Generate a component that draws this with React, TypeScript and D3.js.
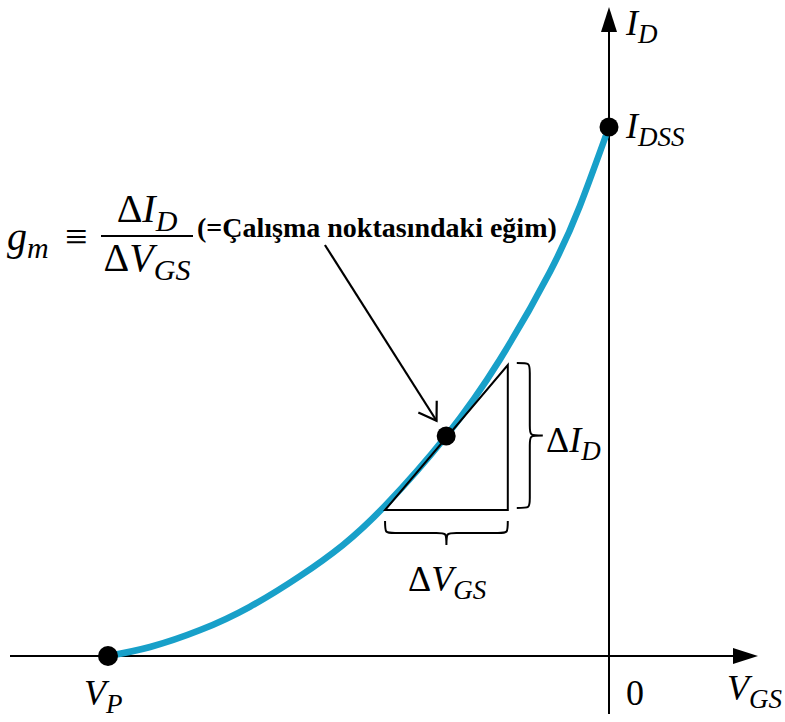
import React from "react";
import * as d3 from "d3";

// JFET transfer characteristic, normalised: VGS / |VP| and ID / IDSS
const vgsNorm = [-1, -0.916, -0.816, -0.717, -0.617, -0.531, -0.445, -0.325, -0.218, -0.118, -0.058, 0];
const idNorm = [0, 0.017, 0.049, 0.093, 0.151, 0.21, 0.286, 0.416, 0.56, 0.726, 0.851, 1];

// Operating point Q and the tangent triangle around it
const qPoint = { vgs: -0.325, id: 0.416 };
const triVgs = [-0.447, -0.202];
const triId = [0.276, 0.55];
// Start of the annotation arrow (same normalised units)
const arrowStart = { vgs: -0.567, id: 0.777 };

const W = 785;
const H = 722;
const SERIF = "Liberation Serif, Times New Roman, Times, serif";
const CURVE = "#18a0c9";

const x = d3.scaleLinear().domain([-1, 0]).range([108, 609]);
const y = d3.scaleLinear().domain([0, 1]).range([656, 127]);

type SubProps = {
  x: number;
  y: number;
  main: string;
  sub: string;
  size?: number;
  subSize?: number;
  delta?: boolean;
  anchor?: "start" | "middle" | "end";
};

function SubLabel({ x, y, main, sub, size = 36, subSize = 27, delta = false, anchor = "start" }: SubProps) {
  return (
    <text
      x={x}
      y={y}
      textAnchor={anchor}
      fill="#000"
      style={{ fontFamily: SERIF, fontSize: size }}
    >
      {delta && <tspan style={{ fontStyle: "normal" }}>Δ</tspan>}
      <tspan style={{ fontStyle: "italic" }}>{main}</tspan>
      <tspan style={{ fontStyle: "italic", fontSize: subSize }} dy={Math.round(size * 0.22)}>
        {sub}
      </tspan>
    </text>
  );
}

function hBrace(x1: number, x2: number, y0: number, depth: number) {
  const y1 = y0 + depth;
  const y2 = y0 + depth * 2;
  const xm = (x1 + x2) / 2;
  const r = 10;
  return `M${x1},${y0} C${x1},${y1} ${x1},${y1} ${x1 + r},${y1} L${xm - r},${y1} C${xm},${y1} ${xm},${y1} ${xm},${y2} C${xm},${y1} ${xm},${y1} ${xm + r},${y1} L${x2 - r},${y1} C${x2},${y1} ${x2},${y1} ${x2},${y0}`;
}

function vBrace(y1: number, y2: number, x0: number, depth: number) {
  const x1 = x0 + depth;
  const x2 = x0 + depth * 2;
  const ym = (y1 + y2) / 2;
  const r = 10;
  return `M${x0},${y1} C${x1},${y1} ${x1},${y1} ${x1},${y1 + r} L${x1},${ym - r} C${x1},${ym} ${x1},${ym} ${x2},${ym} C${x1},${ym} ${x1},${ym} ${x1},${ym + r} L${x1},${y2 - r} C${x1},${y2} ${x1},${y2} ${x0},${y2}`;
}

export default function App() {
  const pts: [number, number][] = vgsNorm.map((v, i) => [v, idNorm[i]]);
  const line = d3
    .line<[number, number]>()
    .x((d) => x(d[0]))
    .y((d) => y(d[1]))
    .curve(d3.curveNatural);

  const x0 = x(0);
  const y0 = y(0);

  // triangle corners
  const ax = x(triVgs[0]);
  const bx = x(triVgs[1]);
  const by = y(triId[0]);
  const cy = y(triId[1]);

  // arrow geometry
  const sx = x(arrowStart.vgs);
  const sy = y(arrowStart.id);
  const qx = x(qPoint.vgs);
  const qy = y(qPoint.id);
  const ang = Math.atan2(qy - sy, qx - sx);
  const tipX = qx - Math.cos(ang) * 18;
  const tipY = qy - Math.sin(ang) * 18;
  const head = 20;
  const spread = (33 * Math.PI) / 180;
  const h1 = [tipX - head * Math.cos(ang - spread), tipY - head * Math.sin(ang - spread)];
  const h2 = [tipX - head * Math.cos(ang + spread), tipY - head * Math.sin(ang + spread)];

  return (
    <svg
      width={W}
      height={H}
      viewBox={`0 0 ${W} ${H}`}
      style={{ position: "absolute", left: 0, top: 0, background: "#fff" }}
    >
      <rect width={W} height={H} fill="#fff" />

      {/* axes */}
      <line x1={10} y1={y0} x2={735} y2={y0} stroke="#000" strokeWidth={2} />
      <path d={`M${758},${y0} L${733},${y0 - 8} L${733},${y0 + 8} Z`} fill="#000" />
      <line x1={x0} y1={714} x2={x0} y2={30} stroke="#000" strokeWidth={2} />
      <path d={`M${x0},${7} L${x0 - 8},${32} L${x0 + 8},${32} Z`} fill="#000" />

      {/* transfer curve */}
      <path d={line(pts) ?? ""} fill="none" stroke={CURVE} strokeWidth={6.5} strokeLinecap="round" />

      {/* tangent triangle */}
      <path
        d={`M${ax},${by} L${bx},${by} L${bx},${cy} Z`}
        fill="none"
        stroke="#000"
        strokeWidth={2}
        strokeLinejoin="miter"
      />

      {/* braces */}
      <path d={hBrace(ax, bx, by + 11, 12)} fill="none" stroke="#000" strokeWidth={2} />
      <path d={vBrace(cy - 2, by - 2, bx + 9, 13)} fill="none" stroke="#000" strokeWidth={2} />

      {/* points */}
      <circle cx={x(-1)} cy={y(0)} r={10} fill="#000" />
      <circle cx={x(0)} cy={y(1)} r={9.5} fill="#000" />
      <circle cx={qx} cy={qy} r={9.5} fill="#000" />

      {/* arrow */}
      <line x1={sx} y1={sy} x2={tipX} y2={tipY} stroke="#000" strokeWidth={2.2} />
      <polyline
        points={`${h1[0]},${h1[1]} ${tipX},${tipY} ${h2[0]},${h2[1]}`}
        fill="none"
        stroke="#000"
        strokeWidth={2.2}
      />

      {/* axis labels */}
      <SubLabel x={626} y={35} main="I" sub="D" />
      <SubLabel x={626} y={138} main="I" sub="DSS" />
      <SubLabel x={84} y={705} main="V" sub="P" />
      <SubLabel x={727} y={700} main="V" sub="GS" />
      <text x={626} y={705} fill="#000" style={{ fontFamily: SERIF, fontSize: 36 }}>
        0
      </text>

      {/* delta labels */}
      <SubLabel x={546} y={452} main="I" sub="D" delta />
      <SubLabel x={408} y={591} main="V" sub="GS" delta />

      {/* transconductance definition */}
      <text x={7} y={250} fill="#000" style={{ fontFamily: SERIF, fontSize: 40 }}>
        <tspan style={{ fontStyle: "italic" }}>g</tspan>
        <tspan style={{ fontStyle: "italic", fontSize: 30 }} dy={8}>
          m
        </tspan>
      </text>
      <text x={65} y={250} fill="#000" style={{ fontFamily: SERIF, fontSize: 40 }}>
        ≡
      </text>
      <SubLabel x={147} y={222} main="I" sub="D" size={40} subSize={30} delta anchor="middle" />
      <line x1={101} y1={236} x2={193} y2={236} stroke="#000" strokeWidth={2} />
      <SubLabel x={147} y={271} main="V" sub="GS" size={40} subSize={30} delta anchor="middle" />
      <text
        x={197}
        y={237}
        fill="#000"
        style={{ fontFamily: SERIF, fontSize: 28, fontWeight: 700 }}
      >
        (=Çalışma noktasındaki eğim)
      </text>
    </svg>
  );
}
